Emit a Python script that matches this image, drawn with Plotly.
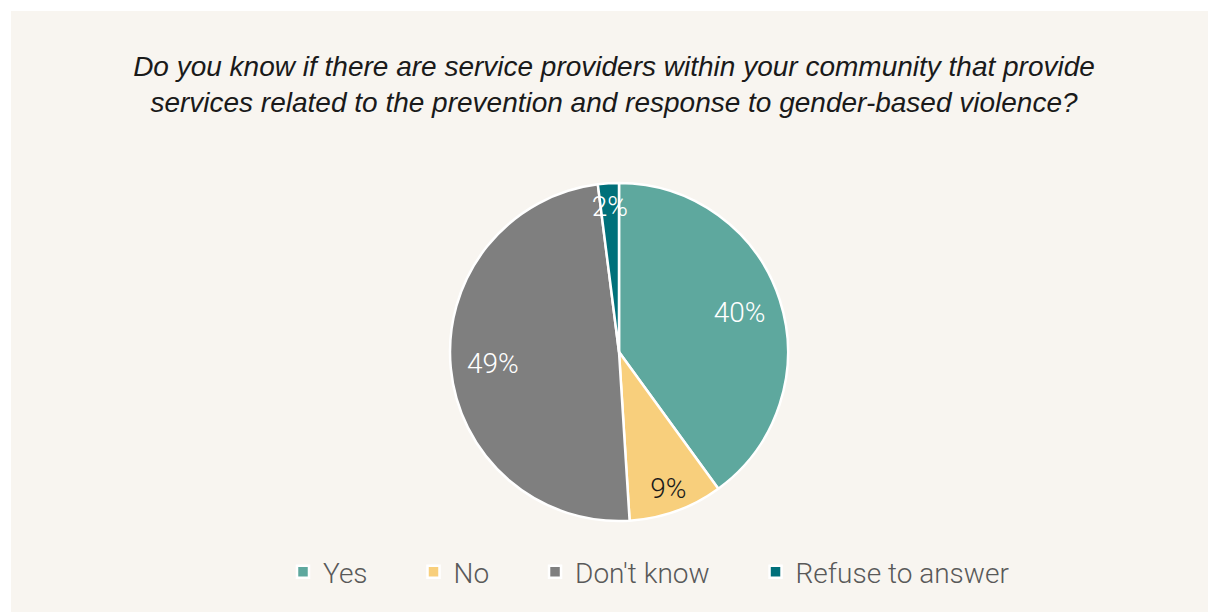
import plotly.graph_objects as go

categories = ["Yes", "No", "Don't know", "Refuse to answer"]
values = [40, 9, 49, 2]
colors = ["#5ea89e", "#f8cf7c", "#7f7f7f", "#00707a"]
label_colors = ["#ffffff", "#1a1a1a", "#ffffff", "#ffffff"]
title_text = ("Do you know if there are service providers within your community that provide<br>"
              "services related to the prevention and response to gender-based violence?")

W, H = 1208, 612
CX, CY, R = 619, 352, 169          # pie centre and radius in pixels
pad = "\u00a0" * 6
legend_names = [c + pad for c in categories[:-1]] + [categories[-1]]


def dom(r):
    return dict(x=[(CX - r) / W, (CX + r) / W], y=[1 - (CY + r) / H, 1 - (CY - r) / H])


big = [v >= 20 for v in values]
tmpl_big = ["%{percent:.0%}" if b else "" for b in big]
tmpl_small = ["" if b else "%{percent:.0%}" for b in big]
common = dict(labels=legend_names, values=values, sort=False, direction="clockwise", rotation=0)
label_font = dict(family="Roboto", size=28, color=label_colors, weight=300)

# slices
fig = go.Figure(go.Pie(
    **common,
    marker=dict(colors=colors, line=dict(color="#ffffff", width=2.5)),
    textinfo="none",
    domain=dom(R),
    hoverinfo="label+percent",
))

# percentage labels for the large slices (transparent ring)
fig.add_trace(go.Pie(
    **common,
    hole=0.5,
    marker=dict(colors=["rgba(0,0,0,0)"] * len(values), line=dict(width=0)),
    texttemplate=tmpl_big,
    textposition="inside",
    insidetextorientation="horizontal",
    textfont=label_font,
    domain=dom(R),
    showlegend=False,
    hoverinfo="skip",
))

# percentage labels for the thin slices (transparent ring)
fig.add_trace(go.Pie(
    **common,
    hole=0.9,
    marker=dict(colors=["rgba(0,0,0,0)"] * len(values), line=dict(width=0)),
    texttemplate=tmpl_small,
    textposition="inside",
    insidetextorientation="horizontal",
    textfont=label_font,
    domain=dom(153),
    showlegend=False,
    hoverinfo="skip",
))

fig.update_layout(
    width=W, height=H,
    margin=dict(l=0, r=0, t=0, b=0),
    paper_bgcolor="#ffffff",
    shapes=[dict(type="rect", xref="paper", yref="paper",
                 x0=11 / W, x1=1, y0=0, y1=1 - 11 / H,
                 fillcolor="#f8f5f0", line=dict(width=0), layer="below")],
    title=dict(text=title_text, x=614 / W, xanchor="center", y=1 - 76 / H, yanchor="middle",
               font=dict(family="Liberation Sans", size=28, color="#1a1a1a", style="italic")),
    uniformtext=dict(minsize=28, mode="show"),
    showlegend=True,
    legend=dict(orientation="h", x=649 / W, xanchor="center", y=1 - 572 / H, yanchor="middle",
                font=dict(family="Roboto", size=28, color="#595959", weight=300),
                bgcolor="rgba(0,0,0,0)", itemclick=False),
)

fig.write_html("out.html")
